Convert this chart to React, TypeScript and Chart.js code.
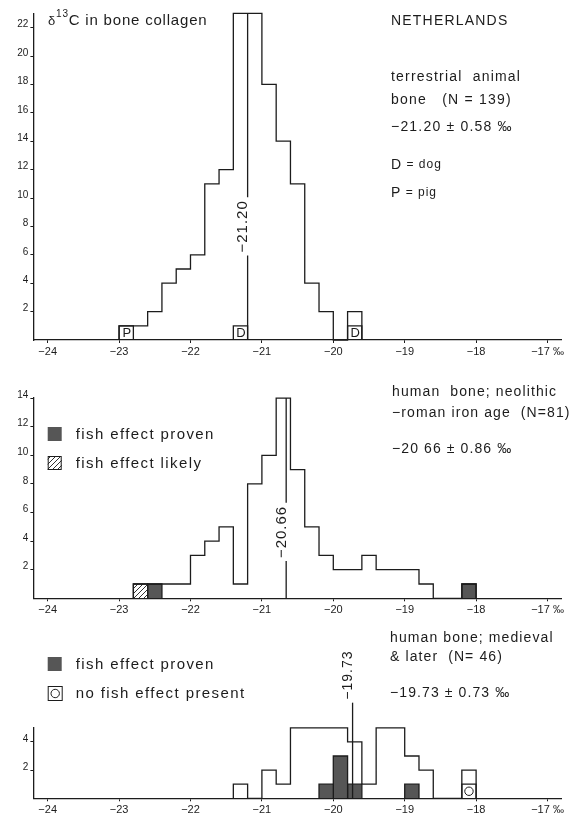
import React, { useEffect, useRef } from 'react';
import { Chart, registerables } from 'chart.js';

Chart.register(...registerables);

// ---------------- data ----------------
const BIN = 0.2;
const X_MIN = -24.2;
const X_MAX = -16.8;
const xTickValues = [-24, -23, -22, -21, -20, -19, -18, -17];
const xTickLabels = ['−24', '−23', '−22', '−21', '−20', '−19', '−18', '−17 ‰'];

// panel 1 : terrestrial animal bone
const start1 = -23.0;
const counts1 = [1, 1, 2, 4, 5, 6, 11, 12, 23, 23, 18, 14, 11, 4, 2, 0, 2];
const pigBins1 = [-23.0];
const dogBins1 = [-21.4, -19.8];
const mean1 = -21.2;
const yTicks1 = [2, 4, 6, 8, 10, 12, 14, 16, 18, 20, 22];
const yMax1 = 23;

// panel 2 : human bone, neolithic - roman iron age
const start2 = -22.8;
const counts2 = [1, 1, 1, 1, 3, 4, 5, 1, 8, 10, 14, 9, 5, 3, 2, 2, 3, 2, 2, 2, 1, 0, 0, 1];
const fishProvenBins2 = [-22.6, -18.2];
const fishProvenCounts2 = [1, 1];
const fishLikelyBins2 = [-22.8];
const fishLikelyCounts2 = [1];
const mean2 = -20.66;
const yTicks2 = [2, 4, 6, 8, 10, 12, 14];
const yMax2 = 14;

// panel 3 : human bone, medieval & later
const start3 = -21.4;
const counts3 = [1, 0, 2, 1, 5, 5, 5, 5, 4, 1, 5, 5, 3, 2, 0, 0, 2];
const fishProvenBins3 = [-20.2, -20.0, -19.8, -19.0];
const fishProvenCounts3 = [1, 3, 1, 1];
const noFishBins3 = [-18.2];
const noFishCounts3 = [1];
const mean3 = -19.73;
const yTicks3 = [2, 4];
const yMax3 = 5;

// ---------------- styling ----------------
const INK = '#1c1c1c';
const DARK = '#565656';
const FONT = '"Liberation Sans", Arial, Helvetica, sans-serif';

type Seg = { t: string; size: number; dy?: number };
type TextItem = { x: number; y: number; segs: Seg[]; spacing?: number };
type BoxSpec = { bin: number; height: number; fill?: 'dark' | 'hatch'; letter?: string; circle?: boolean };
type LegendItem = { x: number; y: number; kind: 'dark' | 'hatch' | 'circle'; text: string };
type PanelSpec = {
  start: number;
  counts: number[];
  boxes: BoxSpec[];
  yTicks: number[];
  yMax: number;
  mean: { value: number; lineTop: number; labelY: number; text: string; dx: number; size: number };
  texts: TextItem[];
  legend: LegendItem[];
  canvasHeight: number;
  padTop: number;
  xAxisHeight: number;
};

const seg = (t: string, size = 14, dy = 0): Seg => ({ t, size, dy });

const panel1: PanelSpec = {
  start: start1,
  counts: counts1,
  boxes: [
    ...pigBins1.map((b) => ({ bin: b, height: 1, letter: 'P' })),
    ...dogBins1.map((b) => ({ bin: b, height: 1, letter: 'D' })),
  ],
  yTicks: yTicks1,
  yMax: yMax1,
  mean: { value: mean1, lineTop: yMax1, labelY: 8, text: '−21.20', dx: -5, size: 15 },
  texts: [
    { x: 48, y: 21, segs: [seg('δ', 13), seg('13', 10, -7), seg('C in bone collagen', 15)], spacing: 0.8 },
    { x: 391, y: 21, segs: [seg('NETHERLANDS', 14)], spacing: 1.2 },
    { x: 391, y: 77, segs: [seg('terrestrial  animal', 14)], spacing: 1.2 },
    { x: 391, y: 100, segs: [seg('bone   (N = 139)', 14)], spacing: 1.2 },
    { x: 391, y: 127, segs: [seg('−21.20 ± 0.58 ‰', 14)], spacing: 1.2 },
    { x: 391, y: 165, segs: [seg('D', 14), seg(' = ', 12), seg('dog', 12)], spacing: 1 },
    { x: 391, y: 193, segs: [seg('P', 14), seg(' = ', 12), seg('pig', 12)], spacing: 1 },
  ],
  legend: [],
  canvasHeight: 362,
  padTop: 13.4,
  xAxisHeight: 22,
};

const panel2: PanelSpec = {
  start: start2,
  counts: counts2,
  boxes: [
    ...fishLikelyBins2.map((b, i) => ({ bin: b, height: fishLikelyCounts2[i], fill: 'hatch' as const })),
    ...fishProvenBins2.map((b, i) => ({ bin: b, height: fishProvenCounts2[i], fill: 'dark' as const })),
  ],
  yTicks: yTicks2,
  yMax: yMax2,
  mean: { value: mean2, lineTop: yMax2, labelY: 4.64, text: '−20.66', dx: -4, size: 15 },
  texts: [
    { x: 392, y: 30, segs: [seg('human  bone; neolithic', 14)], spacing: 1.1 },
    { x: 392, y: 51, segs: [seg('−roman iron age  (N=81)', 14)], spacing: 1.1 },
    { x: 392, y: 87, segs: [seg('−20 66 ± 0.86 ‰', 14)], spacing: 1.1 },
  ],
  legend: [
    { x: 47.7, y: 72, kind: 'dark', text: 'fish effect proven' },
    { x: 47.7, y: 101, kind: 'hatch', text: 'fish effect likely' },
  ],
  canvasHeight: 258,
  padTop: 36.1,
  xAxisHeight: 21.7,
};

const panel3: PanelSpec = {
  start: start3,
  counts: counts3,
  boxes: [
    ...fishProvenBins3.map((b, i) => ({ bin: b, height: fishProvenCounts3[i], fill: 'dark' as const })),
    ...noFishBins3.map((b, i) => ({ bin: b, height: noFishCounts3[i], circle: true })),
  ],
  yTicks: yTicks3,
  yMax: yMax3,
  mean: { value: mean3, lineTop: 6.85, labelY: 8.74, text: '−19.73', dx: -4.5, size: 14 },
  texts: [
    { x: 390, y: 18, segs: [seg('human bone; medieval', 14)], spacing: 1.1 },
    { x: 390, y: 37, segs: [seg('& later  (N= 46)', 14)], spacing: 1.1 },
    { x: 390, y: 73, segs: [seg('−19.73 ± 0.73 ‰', 14)], spacing: 1.1 },
  ],
  legend: [
    { x: 47.7, y: 44, kind: 'dark', text: 'fish effect proven' },
    { x: 47.7, y: 73, kind: 'circle', text: 'no fish effect present' },
  ],
  canvasHeight: 196,
  padTop: 107.8,
  xAxisHeight: 17.7,
};

// ---------------- helpers ----------------
function stepPoints(start: number, counts: number[]) {
  const pts: { x: number; y: number }[] = [{ x: start, y: 0 }];
  counts.forEach((c, i) => pts.push({ x: start + i * BIN, y: c }));
  pts.push({ x: start + counts.length * BIN, y: 0 });
  return pts;
}

function boxPoints(bin: number, h: number) {
  return [
    { x: bin, y: 0 },
    { x: bin, y: h },
    { x: bin + BIN, y: 0 },
  ];
}

function makeHatch(): CanvasPattern | string {
  const c = document.createElement('canvas');
  c.width = 5;
  c.height = 5;
  const g = c.getContext('2d');
  if (!g) return '#fff';
  g.fillStyle = '#fff';
  g.fillRect(0, 0, 5, 5);
  g.strokeStyle = INK;
  g.lineWidth = 0.9;
  g.beginPath();
  g.moveTo(0, 5);
  g.lineTo(5, 0);
  g.moveTo(-1, 1);
  g.lineTo(1, -1);
  g.moveTo(4, 6);
  g.lineTo(6, 4);
  g.stroke();
  return g.createPattern(c, 'repeat') || '#fff';
}

function drawSegs(ctx: CanvasRenderingContext2D, item: TextItem) {
  let x = item.x;
  ctx.textAlign = 'left';
  ctx.textBaseline = 'middle';
  (ctx as any).letterSpacing = `${item.spacing ?? 0}px`;
  item.segs.forEach((s) => {
    ctx.font = `${s.size}px ${FONT}`;
    ctx.fillText(s.t, x, item.y + (s.dy || 0));
    x += ctx.measureText(s.t).width;
  });
  (ctx as any).letterSpacing = '0px';
}

function buildConfig(spec: PanelSpec): any {
  const hatch = makeHatch();
  const datasets: any[] = [];
  const lineBase = {
    stepped: true,
    borderColor: INK,
    borderWidth: 1.3,
    pointRadius: 0,
    clip: false,
    tension: 0,
  };
  datasets.push({ ...lineBase, data: stepPoints(spec.start, spec.counts), fill: false });
  spec.boxes.forEach((b) => {
    datasets.push({
      ...lineBase,
      data: boxPoints(b.bin, b.height),
      fill: b.fill ? 'origin' : false,
      backgroundColor: b.fill === 'dark' ? DARK : b.fill === 'hatch' ? hatch : 'transparent',
    });
  });

  const annot = {
    id: 'annot',
    afterDraw(chart: any) {
      const ctx: CanvasRenderingContext2D = chart.ctx;
      const xs = chart.scales.x;
      const ys = chart.scales.y;
      ctx.save();
      ctx.fillStyle = INK;
      ctx.strokeStyle = INK;

      // letters / circles inside marker boxes
      spec.boxes.forEach((b) => {
        const cx = xs.getPixelForValue(b.bin + BIN / 2);
        const cy = ys.getPixelForValue(b.height / 2);
        if (b.letter) {
          ctx.font = `13px ${FONT}`;
          ctx.textAlign = 'center';
          ctx.textBaseline = 'middle';
          ctx.fillText(b.letter, cx + 0.5, cy + 1);
        }
        if (b.circle) {
          ctx.lineWidth = 1;
          ctx.beginPath();
          ctx.arc(cx, cy, 4.2, 0, Math.PI * 2);
          ctx.stroke();
        }
      });

      // mean line with rotated label
      const m = spec.mean;
      const px = xs.getPixelForValue(m.value);
      const y0 = ys.getPixelForValue(0);
      const y1 = ys.getPixelForValue(m.lineTop);
      const cy = ys.getPixelForValue(m.labelY);
      ctx.font = `${m.size}px ${FONT}`;
      (ctx as any).letterSpacing = '1px';
      const w = ctx.measureText(m.text).width;
      const g0 = cy - w / 2 - 3;
      const g1 = cy + w / 2 + 3;
      ctx.lineWidth = 1.3;
      ctx.beginPath();
      if (y1 < g0) {
        ctx.moveTo(px, y1);
        ctx.lineTo(px, Math.min(g0, y0));
      }
      if (g1 < y0) {
        ctx.moveTo(px, Math.max(g1, y1));
        ctx.lineTo(px, y0);
      }
      ctx.stroke();
      ctx.save();
      ctx.translate(px + m.dx, cy);
      ctx.rotate(-Math.PI / 2);
      ctx.textAlign = 'center';
      ctx.textBaseline = 'middle';
      ctx.fillText(m.text, 0, 0);
      ctx.restore();
      (ctx as any).letterSpacing = '0px';

      // free texts
      spec.texts.forEach((t) => drawSegs(ctx, t));

      // legend
      spec.legend.forEach((l) => {
        const s = 14;
        const top = l.y - s / 2;
        if (l.kind === 'dark') {
          ctx.fillStyle = DARK;
          ctx.fillRect(l.x, top, s, s);
        } else if (l.kind === 'hatch') {
          ctx.fillStyle = hatch as any;
          ctx.fillRect(l.x, top, s, s);
          ctx.lineWidth = 1;
          ctx.strokeStyle = INK;
          ctx.strokeRect(l.x + 0.5, top + 0.5, s - 1, s - 1);
        } else {
          ctx.lineWidth = 1;
          ctx.strokeStyle = INK;
          ctx.strokeRect(l.x + 0.5, top + 0.5, s, s);
          ctx.beginPath();
          ctx.arc(l.x + s / 2 + 0.5, l.y + 0.5, 4.2, 0, Math.PI * 2);
          ctx.stroke();
        }
        ctx.fillStyle = INK;
        drawSegs(ctx, { x: l.x + 28, y: l.y + 1, segs: [seg(l.text, 15)], spacing: 1.4 });
      });
      ctx.restore();
    },
  };

  return {
    type: 'line',
    data: { datasets },
    options: {
      animation: false,
      responsive: false,
      devicePixelRatio: 1,
      events: [],
      layout: { padding: { top: spec.padTop, right: 14.2, left: 0, bottom: 0 } },
      plugins: { legend: { display: false }, tooltip: { enabled: false } },
      scales: {
        x: {
          type: 'linear',
          min: X_MIN,
          max: X_MAX,
          afterBuildTicks: (s: any) => {
            s.ticks = xTickValues.map((v) => ({ value: v }));
          },
          afterFit: (s: any) => {
            s.height = spec.xAxisHeight;
          },
          ticks: {
            autoSkip: false,
            maxRotation: 0,
            padding: 2,
            color: INK,
            font: { family: FONT, size: 11 },
            callback: (v: number) => xTickLabels[xTickValues.indexOf(v)] ?? '',
          },
          grid: { display: true, drawOnChartArea: false, drawTicks: true, tickLength: 3, color: INK, lineWidth: 1 },
          border: { display: true, color: INK, width: 1.3 },
        },
        y: {
          type: 'linear',
          min: 0,
          max: spec.yMax,
          afterBuildTicks: (s: any) => {
            s.ticks = spec.yTicks.map((v) => ({ value: v }));
          },
          afterFit: (s: any) => {
            s.width = 33.4;
          },
          ticks: {
            autoSkip: false,
            padding: 2,
            labelOffset: -3,
            color: INK,
            font: { family: FONT, size: 10 },
          },
          grid: { display: true, drawOnChartArea: false, drawTicks: true, tickLength: 3, color: INK, lineWidth: 1 },
          border: { display: true, color: INK, width: 1.3 },
        },
      },
    },
    plugins: [annot],
  };
}

function Panel({ spec, top }: { spec: PanelSpec; top: number }) {
  const ref = useRef<HTMLCanvasElement>(null);
  useEffect(() => {
    const canvas = ref.current;
    if (!canvas) return;
    const chart = new Chart(canvas, buildConfig(spec));
    return () => chart.destroy();
  }, [spec]);
  return (
    <canvas
      ref={ref}
      width={576}
      height={spec.canvasHeight}
      style={{ position: 'absolute', left: 0, top, width: 576, height: spec.canvasHeight }}
    />
  );
}

export default function App() {
  return (
    <div style={{ position: 'absolute', left: 0, top: 0, width: 576, height: 816, background: '#fff', overflow: 'hidden' }}>
      <Panel spec={panel1} top={0} />
      <Panel spec={panel2} top={362} />
      <Panel spec={panel3} top={620} />
    </div>
  );
}
